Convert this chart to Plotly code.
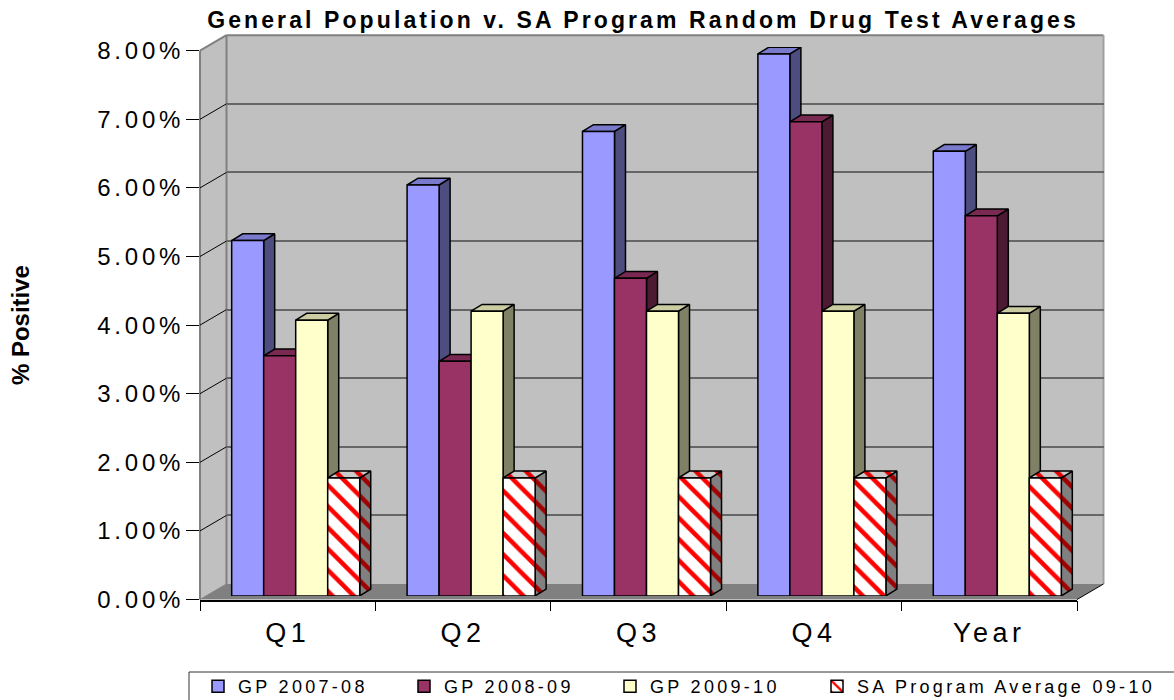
import plotly.graph_objects as go

# ---------- data ----------
categories = ["Q1", "Q2", "Q3", "Q4", "Year"]
series_names = ["GP 2007-08", "GP 2008-09", "GP 2009-10", "SA Program Average 09-10"]
gp_2007_08 = [5.18, 5.99, 6.77, 7.90, 6.48]
gp_2008_09 = [3.50, 3.42, 4.63, 6.91, 5.54]
gp_2009_10 = [4.02, 4.15, 4.15, 4.15, 4.12]
sa_program = [1.72, 1.72, 1.72, 1.72, 1.72]
y_ticks = [0, 1, 2, 3, 4, 5, 6, 7, 8]
y_tick_labels = ["0.00%", "1.00%", "2.00%", "3.00%", "4.00%", "5.00%", "6.00%", "7.00%", "8.00%"]

all_series = [gp_2007_08, gp_2008_09, gp_2009_10, sa_program]
front_colors = ["#9999FF", "#993366", "#FFFFCC", "#FFFFFF"]
side_colors = ["#4D4D80", "#4D1A33", "#808066", "#808080"]
top_colors = ["#7A7ACC", "#7A2952", "#CCCCA3", "#CCCCCC"]
legend_ids = ["legend", "legend2", "legend3", "legend4"]
legend_left_px = [198, 404, 610, 817]
legend_entry_px = [150, 150, 150, 320]

# ---------- layout geometry (pixels) ----------
W, H = 1174, 700
FX0, FX1, FY_TOP, FY_BOT = 200, 1077, 50.7, 599.5   # front plane of the box
BDX, BDY = 26.5, -15.5                              # box depth
PDX, PDY = 8.0, -3.6                                # bars' front plane inside box
DDX, DDY = 11.0, -6.8                               # bar depth
BAR_GAP = 0.27

def px(x):
    return x / W

def py(y):
    return 1 - y / H

CAT_PX = (FX1 - FX0) / len(categories)
UNIT_PX = (FY_BOT - FY_TOP) / 8
dx_u = DDX / CAT_PX
dy_u = -DDY / UNIT_PX
bar_w = (1 - BAR_GAP) / len(all_series)

fig = go.Figure()

# anchor traces for wall and front-axis subplots
fig.add_trace(go.Scatter(x=[0], y=[None], xaxis="x", yaxis="y", showlegend=False, hoverinfo="skip"))
fig.add_trace(go.Scatter(x=categories, y=[None] * len(categories), xaxis="x2", yaxis="y2",
                         showlegend=False, hoverinfo="skip"))

# side and top faces, painted left to right, derived from the values
for c in range(len(categories)):
    for k, vals in enumerate(all_series):
        v = vals[c]
        xl = c - 0.5 + BAR_GAP / 2 + k * bar_w
        xr = xl + bar_w
        pattern_side = dict(shape="\\", fgcolor="#A00000", bgcolor="#808080", fgopacity=1, size=15, solidity=0.3) if k == 3 else None
        pattern_top = dict(shape="\\", fgcolor="#E00000", bgcolor="#CCCCCC", fgopacity=1, size=15, solidity=0.3) if k == 3 else None
        side = dict(x=[xr, xr + dx_u, xr + dx_u, xr, xr], y=[0, dy_u, v + dy_u, v, 0])
        top = dict(x=[xl, xl + dx_u, xr + dx_u, xr, xl], y=[v, v + dy_u, v + dy_u, v, v])
        for poly, color, pat in ((side, side_colors[k], pattern_side), (top, top_colors[k], pattern_top)):
            kw = dict(fillpattern=pat) if pat else {}
            fig.add_trace(go.Scatter(x=poly["x"], y=poly["y"], xaxis="x3", yaxis="y3", mode="lines",
                                     fill="toself", fillcolor=color, cliponaxis=False,
                                     line=dict(color="#000000", width=1.5), showlegend=False,
                                     hoverinfo="skip", **kw))

# front faces
for k, vals in enumerate(all_series):
    marker = dict(color=front_colors[k], line=dict(color="#000000", width=1.5))
    if k == 3:
        marker["pattern"] = dict(shape="\\", fgcolor="#FF0000", bgcolor="#FFFFFF", fgopacity=1, size=15, solidity=0.3)
    fig.add_trace(go.Bar(x=categories, y=vals, name=series_names[k], xaxis="x4", yaxis="y4",
                         marker=marker, cliponaxis=False, legend=legend_ids[k]))

# box: walls, floor, frame (paper coordinates)
shapes = []
def poly(points, fill, line_color="rgba(0,0,0,0)", width=1.5):
    path = "M" + "L".join(f"{px(a):.5f},{py(b):.5f}" for a, b in points) + "Z"
    shapes.append(dict(type="path", path=path, xref="paper", yref="paper", layer="below",
                       fillcolor=fill, line=dict(color=line_color, width=width)))

def seg(a, b, color, width=1.5):
    shapes.append(dict(type="line", xref="paper", yref="paper", layer="below",
                       x0=px(a[0]), y0=py(a[1]), x1=px(b[0]), y1=py(b[1]),
                       line=dict(color=color, width=width)))

BX0, BX1, BY_TOP, BY_BOT = FX0 + BDX, FX1 + BDX, FY_TOP + BDY, FY_BOT + BDY
poly([(BX0, BY_TOP), (BX1, BY_TOP), (BX1, BY_BOT), (BX0, BY_BOT)], "#C0C0C0")
poly([(FX0, FY_TOP), (BX0, BY_TOP), (BX0, BY_BOT), (FX0, FY_BOT)], "#C0C0C0")
poly([(FX0, FY_BOT), (BX0, BY_BOT), (BX1, BY_BOT), (FX1, FY_BOT)], "#808080")
seg((FX0, FY_TOP), (BX0, BY_TOP), "#808080", 2)
seg((BX0, BY_TOP), (BX1, BY_TOP), "#808080", 2)
seg((BX1, BY_TOP), (BX1, BY_BOT), "#A0A0A0", 2)
seg((BX0, BY_TOP), (BX0, BY_BOT), "#808080", 2)
seg((FX0, FY_TOP), (FX0, FY_BOT), "#808080", 2)
seg((FX1, FY_BOT), (BX1, BY_BOT), "#000000", 1)
for t in y_ticks[1:-1]:
    yy = FY_BOT - t * UNIT_PX
    seg((FX0, yy), (BX0, yy + BDY), "#000000", 1)
seg((FX0, FY_BOT), (BX0, BY_BOT), "#808080", 1)
# legend frame
shapes.append(dict(type="rect", xref="paper", yref="paper", layer="below",
                   x0=px(189), x1=px(1190), y0=py(672), y1=py(710),
                   fillcolor="#FFFFFF", line=dict(color="#333333", width=1)))

font = "Liberation Sans, Arial, sans-serif"
hidden = dict(visible=False, showgrid=False, zeroline=False)

legends = {}
for k, lid in enumerate(legend_ids):
    legends[lid] = dict(orientation="h", x=px(legend_left_px[k]), xanchor="left", y=py(668), yanchor="top",
                        font=dict(size=18, family=font), entrywidth=legend_entry_px[k], entrywidthmode="pixels",
                        bgcolor="rgba(0,0,0,0)", borderwidth=0, traceorder="normal",
                        itemclick=False, itemdoubleclick=False)

fig.update_layout(
    width=W, height=H, margin=dict(l=0, r=0, t=0, b=0, autoexpand=False),
    paper_bgcolor="#FFFFFF", plot_bgcolor="rgba(0,0,0,0)",
    font=dict(family=font, color="#000000"),
    barmode="group", bargap=BAR_GAP, bargroupgap=0,
    shapes=shapes,
    title=dict(text="<b>General Population v. SA Program Random Drug Test Averages</b>",
               font=dict(size=23, family=font), x=643 / W, xanchor="center", y=1 - 20 / H, yanchor="middle"),
    xaxis=dict(domain=[px(BX0), px(BX1)], range=[0, 1], anchor="y", **hidden),
    yaxis=dict(domain=[py(BY_BOT), py(BY_TOP)], range=[0, 8], anchor="x", visible=True, tickvals=y_ticks,
               showgrid=True, gridcolor="#666666", gridwidth=2, zeroline=False, showline=False,
               ticks="", showticklabels=False),
    xaxis2=dict(domain=[px(FX0), px(FX1)], type="category", categoryorder="array", categoryarray=categories,
                range=[-0.5, 4.5], anchor="y2", tickson="boundaries", ticks="outside", ticklen=10,
                tickcolor="#000000", tickwidth=1, showline=True, linecolor="#000000", linewidth=1.5,
                showgrid=False, zeroline=False, tickfont=dict(size=27), ticklabelstandoff=8),
    yaxis2=dict(domain=[py(FY_BOT), py(FY_TOP)], range=[0, 8], anchor="x2", tickvals=y_ticks,
                ticktext=y_tick_labels, ticks="outside", ticklen=13, tickcolor="#000000", tickwidth=1,
                showline=False, showgrid=False, zeroline=False, tickfont=dict(size=24),
                ticklabelstandoff=-3,
                title=dict(text="<b>% Positive</b>", font=dict(size=24, family=font), standoff=79)),
    xaxis3=dict(domain=[px(FX0 + PDX), px(FX1 + PDX)], range=[-0.5, 4.5], anchor="y3", **hidden),
    yaxis3=dict(domain=[py(FY_BOT + PDY), py(FY_TOP + PDY)], range=[0, 8], anchor="x3", **hidden),
    xaxis4=dict(domain=[px(FX0 + PDX), px(FX1 + PDX)], type="category", categoryorder="array",
                categoryarray=categories, range=[-0.5, 4.5], anchor="y4", **hidden),
    yaxis4=dict(domain=[py(FY_BOT + PDY), py(FY_TOP + PDY)], range=[0, 8], anchor="x4", **hidden),
    **legends,
)

post = """
var s=document.createElement('style');
s.textContent='body{margin:0;overflow:hidden}'+
'.x2tick text{letter-spacing:4.5px}.y2tick text{letter-spacing:3.8px}'+
'.legendtext,.legend2text,.legend3text,.legend4text{letter-spacing:3.3px}.gtitle{letter-spacing:3.1px}';
document.head.appendChild(s);
"""
fig.write_html("out.html", post_script=post, config={"displayModeBar": False})
